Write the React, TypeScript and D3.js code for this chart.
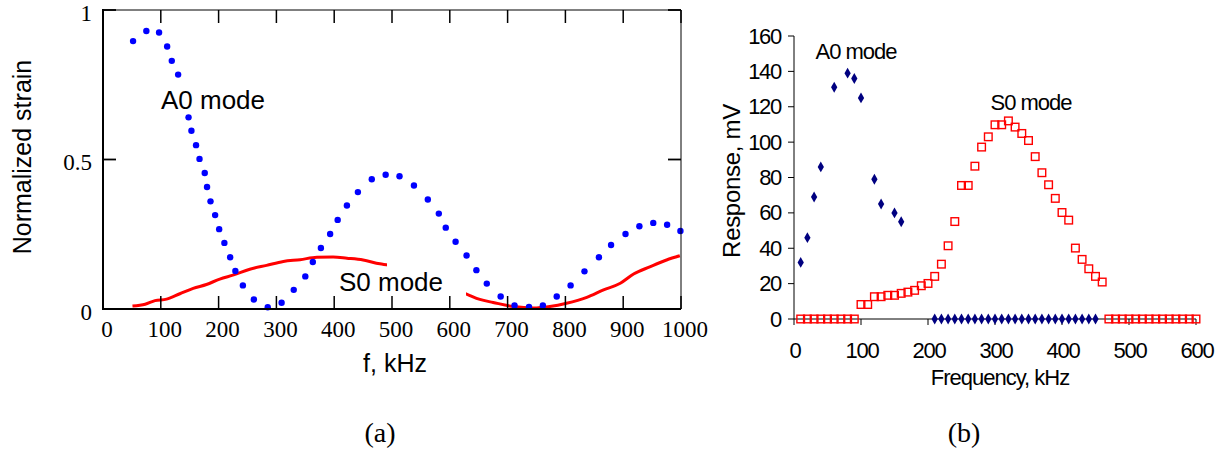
import React from "react";
import * as d3 from "d3";

// ---------- Panel (a): normalized strain ----------
const a0StrainFreq = [52, 75, 97, 111, 119, 130, 148, 153, 161, 167, 176, 180, 186, 194, 201, 210, 220, 229, 242, 261, 285, 309, 330, 350, 363, 377, 393, 406, 422, 441, 465, 489, 513, 538, 562, 581, 593, 610, 629, 646, 664, 688, 712, 737, 761, 785, 809, 833, 858, 879, 904, 928, 952, 976, 999];
const a0StrainVal = [0.896, 0.93, 0.925, 0.878, 0.83, 0.784, 0.641, 0.596, 0.548, 0.502, 0.455, 0.408, 0.36, 0.314, 0.267, 0.221, 0.173, 0.127, 0.079, 0.032, 0.006, 0.021, 0.064, 0.109, 0.157, 0.204, 0.251, 0.298, 0.346, 0.391, 0.434, 0.449, 0.444, 0.413, 0.366, 0.319, 0.272, 0.225, 0.179, 0.13, 0.085, 0.042, 0.012, 0.007, 0.012, 0.042, 0.079, 0.126, 0.173, 0.214, 0.251, 0.277, 0.288, 0.282, 0.261];

const s0StrainFreq = [51, 73, 90, 110, 133, 156, 179, 202, 226, 254, 283, 312, 341, 370, 398, 422, 450, 479, 493, 520, 560, 600, 629, 652, 675, 710, 745, 773, 802, 837, 866, 895, 918, 946, 975, 998];
const s0StrainVal = [0.01, 0.016, 0.028, 0.033, 0.051, 0.069, 0.082, 0.1, 0.114, 0.133, 0.146, 0.159, 0.165, 0.173, 0.174, 0.17, 0.164, 0.151, 0.147, 0.135, 0.105, 0.07, 0.05, 0.032, 0.022, 0.008, 0.003, 0.008, 0.019, 0.039, 0.064, 0.086, 0.117, 0.141, 0.164, 0.178];

const aXTicks = [0, 100, 200, 300, 400, 500, 600, 700, 800, 900, 1000];
const aYTicks = [0, 0.5, 1];
const aYTickLabels = ["0", "0.5", "1"];

// ---------- Panel (b): response ----------
const a0RespFreq = [10, 20, 30, 40, 60, 80, 90, 100, 120, 130, 150, 160, 210, 220, 230, 240, 250, 260, 270, 280, 290, 300, 310, 320, 330, 340, 350, 360, 370, 380, 390, 400, 410, 420, 430, 440, 450];
const a0RespVal = [32, 46, 69, 86, 131, 139, 136, 125, 79, 65, 60, 55, 0, 0, 0, 0, 0, 0, 0, 0, 0, 0, 0, 0, 0, 0, 0, 0, 0, 0, 0, 0, 0, 0, 0, 0, 0];

const s0RespFreq = [10, 20, 30, 40, 50, 60, 70, 80, 90, 100, 110, 120, 130, 140, 150, 160, 170, 180, 190, 200, 210, 220, 230, 240, 250, 260, 270, 280, 290, 300, 310, 320, 330, 340, 350, 360, 370, 380, 390, 400, 410, 420, 430, 440, 450, 460, 470, 480, 490, 500, 510, 520, 530, 540, 550, 560, 570, 580, 590, 600];
const s0RespVal = [0, 0, 0, 0, 0, 0, 0, 0, 0, 8.2, 8.2, 12.6, 12.6, 13.4, 13.4, 14.5, 15.2, 16.2, 18.8, 20.1, 24.1, 31, 41.4, 55.1, 75.5, 75.5, 86.4, 97.2, 103, 109.8, 109.8, 112, 108.5, 104.9, 100.9, 91.8, 82.7, 75.9, 68.2, 60.2, 55.9, 40.1, 33.7, 28.4, 24.1, 20.9, 0, 0, 0, 0, 0, 0, 0, 0, 0, 0, 0, 0, 0, 0];

const bXTicks = [0, 100, 200, 300, 400, 500, 600];
const bYTicks = [0, 20, 40, 60, 80, 100, 120, 140, 160];

const SANS = "'Liberation Sans', Arial, sans-serif";
const SERIF = "'Liberation Serif', 'Times New Roman', serif";

export default function App() {
  // panel a scales
  const xA = d3.scaleLinear().domain([0, 1000]).range([103, 681]);
  const yA = d3.scaleLinear().domain([0, 1]).range([309, 10]);
  // panel b scales
  const xB = d3.scaleLinear().domain([0, 600]).range([794, 1196]);
  const yB = d3.scaleLinear().domain([0, 160]).range([319, 36]);

  const s0Line = d3
    .line<number>()
    .x((d, i) => xA(s0StrainFreq[i]))
    .y((d) => yA(d))
    .curve(d3.curveMonotoneX)(s0StrainVal) as string;

  const tickLen = 13;
  const diamond = d3.symbol().type(d3.symbolDiamond).size(34)() as string;

  return (
    <svg
      width={1229}
      height={451}
      style={{ position: "absolute", left: 0, top: 0, background: "#fff" }}
    >
      <rect x={0} y={0} width={1229} height={451} fill="#fff" />
      {/* ===== Panel (a) ===== */}
      <g>
        <path d={s0Line} fill="none" stroke="#ff0000" strokeWidth={3} />
        {a0StrainVal.map((v, i) => (
          <circle key={i} cx={xA(a0StrainFreq[i])} cy={yA(v)} r={3.2} fill="#0000ff" />
        ))}
        {/* label backgrounds */}
        <rect x={158} y={87} width={112} height={27} fill="#fff" />
        <rect x={387} y={259} width={79} height={41} fill="#fff" />
        <text x={213} y={100} fontFamily={SANS} fontSize={26} textAnchor="middle" dominantBaseline="central">A0 mode</text>
        <text x={391} y={282} fontFamily={SANS} fontSize={26} textAnchor="middle" dominantBaseline="central">S0 mode</text>

        {/* frame */}
        <line x1={103} x2={681} y1={10} y2={10} stroke="#000" strokeWidth={1} />
        <line x1={681} x2={681} y1={10} y2={309} stroke="#000" strokeWidth={1} />
        <line x1={103} x2={681} y1={309} y2={309} stroke="#000" strokeWidth={2} />
        <line x1={103} x2={103} y1={9} y2={310} stroke="#000" strokeWidth={2} />
        {aXTicks.map((t) => (
          <g key={"ax" + t}>
            <line x1={xA(t)} x2={xA(t)} y1={309} y2={309 - tickLen} stroke="#000" strokeWidth={1.5} />
            <line x1={xA(t)} x2={xA(t)} y1={10} y2={10 + tickLen} stroke="#000" strokeWidth={1.5} />
            <text x={xA(t) + 4} y={337} fontFamily={SERIF} fontSize={23} textAnchor="middle">{t}</text>
          </g>
        ))}
        {aYTicks.map((t, i) => (
          <g key={"ay" + t}>
            <line x1={103} x2={103 + tickLen} y1={yA(t)} y2={yA(t)} stroke="#000" strokeWidth={1.8} />
            <line x1={681} x2={681 - tickLen} y1={yA(t)} y2={yA(t)} stroke="#000" strokeWidth={1.8} />
            <text x={92} y={yA(t) + 3} fontFamily={SERIF} fontSize={23} textAnchor="end" dominantBaseline="central">{aYTickLabels[i]}</text>
          </g>
        ))}
        <text x={395} y={363} fontFamily={SANS} fontSize={25} textAnchor="middle" dominantBaseline="central">f, kHz</text>
        <text transform="translate(22,157) rotate(-90)" fontFamily={SANS} fontSize={25} textAnchor="middle" dominantBaseline="central">Normalized strain</text>
        <text x={380} y={432} fontFamily={SERIF} fontSize={28} textAnchor="middle" dominantBaseline="central">(a)</text>
      </g>

      {/* ===== Panel (b) ===== */}
      <g>
        <line x1={794} x2={794} y1={36} y2={319} stroke="#000" strokeWidth={1} />
        <line x1={794} x2={1196} y1={319} y2={319} stroke="#000" strokeWidth={1} />
        {bYTicks.map((t) => (
          <g key={"by" + t}>
            <line x1={788} x2={794} y1={yB(t)} y2={yB(t)} stroke="#000" strokeWidth={1} />
            <text x={781} y={yB(t)} fontFamily={SANS} fontSize={22} letterSpacing={-1.3} textAnchor="end" dominantBaseline="central">{t}</text>
          </g>
        ))}
        {bXTicks.map((t) => (
          <g key={"bx" + t}>
            <line x1={xB(t)} x2={xB(t)} y1={319} y2={325} stroke="#000" strokeWidth={1} />
            <text x={xB(t) + 1} y={350} fontFamily={SANS} fontSize={22} letterSpacing={-1.3} textAnchor="middle" dominantBaseline="central">{t}</text>
          </g>
        ))}
        {s0RespVal.map((v, i) => (
          <rect key={"s" + i} x={xB(s0RespFreq[i]) - 3.8} y={yB(v) - 3.8} width={7.6} height={7.6} fill="none" stroke="#ff0000" strokeWidth={1.4} />
        ))}
        {a0RespVal.map((v, i) => (
          <path key={"a" + i} d={diamond} transform={`translate(${xB(a0RespFreq[i])},${yB(v)})`} fill="#000080" />
        ))}
        <text x={856} y={51} fontFamily={SANS} fontSize={22} letterSpacing={-1} textAnchor="middle" dominantBaseline="central">A0 mode</text>
        <text x={1031} y={102} fontFamily={SANS} fontSize={22} letterSpacing={-1} textAnchor="middle" dominantBaseline="central">S0 mode</text>
        <text x={1000} y={377} fontFamily={SANS} fontSize={22} letterSpacing={-1} textAnchor="middle" dominantBaseline="central">Frequency, kHz</text>
        <text transform="translate(731,181) rotate(-90)" fontFamily={SANS} fontSize={24} letterSpacing={-0.3} textAnchor="middle" dominantBaseline="central">Response, mV</text>
        <text x={964} y={432} fontFamily={SERIF} fontSize={28} textAnchor="middle" dominantBaseline="central">(b)</text>
      </g>
    </svg>
  );
}
